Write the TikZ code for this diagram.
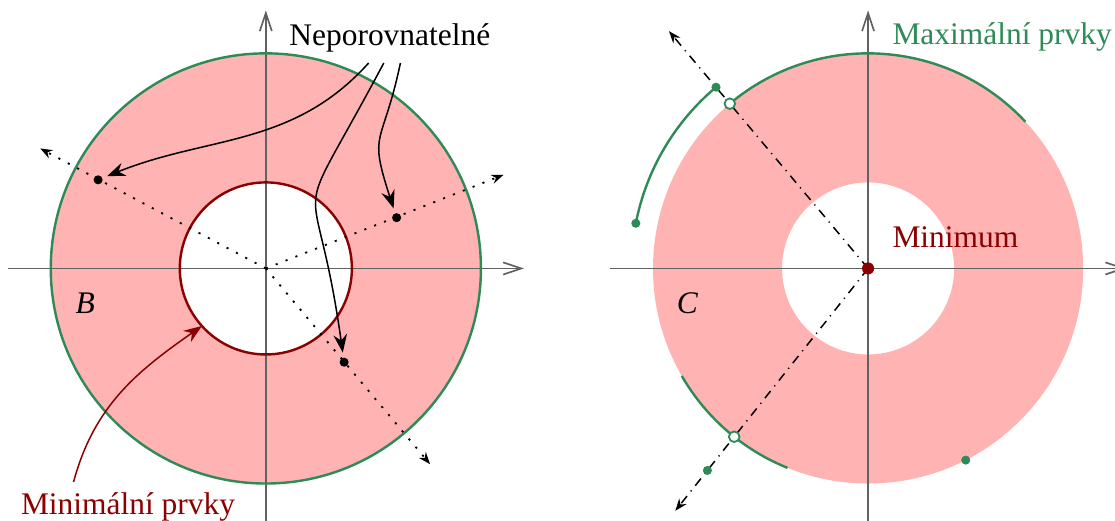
\documentclass[tikz,border=0pt]{standalone}
\usepackage{fontspec}
\setmainfont{Liberation Serif}
\usetikzlibrary{arrows.meta, positioning, calc}
\definecolor{ringfill}{HTML}{FFB3B3}
\definecolor{maxgreen}{HTML}{2E8B57}
\definecolor{mindark}{HTML}{8B0000}

\begin{document}
\begin{tikzpicture}[
    every node/.style={font=\fontsize{10.4}{12}\selectfont},
    axis/.style={-{Straight Barb[length=6pt, width=4pt]}, black!62, line width=0.55pt},
    ring/.style={ringfill, even odd rule},
    outer/.style={maxgreen, line width=0.8pt},
    inner/.style={mindark, line width=0.8pt},
    ray/.style={-{Stealth[length=4pt, width=3pt]}, dash pattern=on 0.7pt off 2.8pt, line width=0.6pt},
    dray/.style={-{Stealth[length=4pt, width=3pt]}, dash dot, line width=0.5pt},
    ptr/.style={-{Stealth[length=6pt, width=4.5pt]}, line width=0.5pt, shorten >=1.5pt},
    pt/.style={circle, fill=black, inner sep=0pt, minimum size=3pt},
    gdot/.style={circle, fill=maxgreen, inner sep=0pt, minimum size=3pt},
    gopen/.style={circle, draw=maxgreen, fill=white, line width=0.6pt, inner sep=0pt, minimum size=3.5pt},
    rdot/.style={circle, fill=mindark, inner sep=0pt, minimum size=4pt}
]
\useasboundingbox (-3.09,-2.93) rectangle (9.87,3.12);

% set B
\fill[ring] (0,0) circle (2.5) (0,0) circle (1);
\draw[axis] (-3,0) -- (3,0);
\draw[axis] (0,-3) -- (0,3);
\draw[outer] (0,0) circle (2.5);
\draw[inner] (0,0) circle (1);
\node at (-2.1,-0.4) {\textit{B}};

% incomparable points
\coordinate (o) at (0,0);
\node[pt] (p1) at (-1.95, 1.03) {};
\node[pt] (p2) at (1.52, 0.59) {};
\node[pt] (p3) at (0.91, -1.09) {};
\coordinate (e1) at (152:2.97);
\coordinate (e2) at (21.5:2.97);
\coordinate (e3) at (-50:2.97);
\draw[ray] (o) -- (e1);
\draw[ray] (o) -- (e2);
\draw[ray] (o) -- (e3);

\node[anchor=base west] (nep) at (0.15, 2.59) {Neporovnatelné};
\draw[ptr] ([xshift=-7pt]nep.south) to[out=-132, in=22] (p1);
\draw[ptr] ([xshift=-2pt]nep.south) to[out=-118, in=98, looseness=1.8] (p3);
\draw[ptr] ([xshift=3.5pt]nep.south) to[out=-102, in=108, looseness=1.5] (p2);

% minimal elements
\node[anchor=base west, text=mindark] (minp) at (-2.97, -2.86) {Minimální prvky};
\coordinate (c1) at (222:1);
\draw[ptr, mindark, shorten >=0pt] ([xshift=-18pt]minp.north) to[out=75, in=-145] (c1);

% set C
\begin{scope}[xshift=7cm]
\fill[ring] (0,0) circle (2.5) (0,0) circle (1);
\draw[axis] (-3,0) -- (3,0);
\draw[axis] (0,-3) -- (0,3);
\node at (-2.1,-0.4) {\textit{C}};

\draw[outer] (43:2.5) arc[start angle=43, end angle=130, radius=2.5];
\draw[outer] (130:2.75) arc[start angle=130, end angle=169, radius=2.75];
\draw[outer] (210:2.5) arc[start angle=210, end angle=248, radius=2.5];

\coordinate (m) at (0,0);
\coordinate (f1) at (130:3.6);
\coordinate (f2) at (231.5:3.6);
\draw[dray] (m) -- (f1);
\draw[dray] (m) -- (f2);

\node[gopen] (q1) at (130:2.5) {};
\node[gopen] (q2) at (231.5:2.5) {};
\node[gdot] (g1) at (130:2.75) {};
\node[gdot] (g2) at (169:2.75) {};
\node[gdot] (g3) at (231.5:3) {};
\node[gdot] (g4) at (-63:2.5) {};
\node[rdot] (mn) at (0,0) {};

\node[anchor=base west, text=maxgreen] (maxp) at (0.16, 2.6) {Maximální prvky};
\node[anchor=base west, text=mindark] (minim) at (0.16, 0.24) {Minimum};
\end{scope}

\end{tikzpicture}
\end{document}
